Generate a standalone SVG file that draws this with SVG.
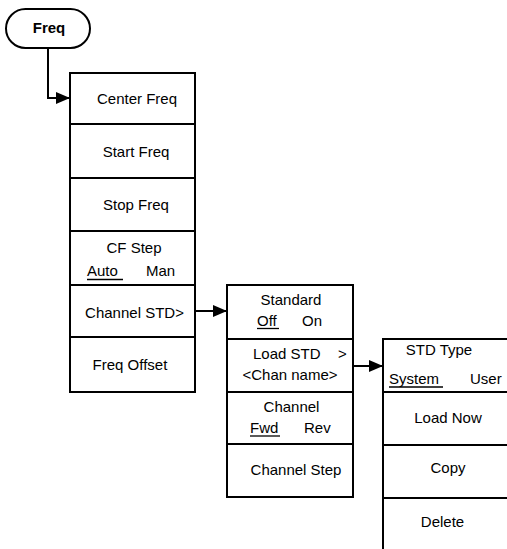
<svg xmlns="http://www.w3.org/2000/svg" width="507" height="549" viewBox="0 0 507 549">
<style>
.box{fill:#fff;stroke:#000;stroke-width:2}
.ln{fill:none;stroke:#000;stroke-width:2}
.t{font-family:"Liberation Sans",Arial,sans-serif;font-size:15px;fill:#000}
.m{text-anchor:middle}
.b{font-weight:bold}
.u{stroke:#000;stroke-width:1.3}
</style>
<defs>
<marker id="ah" markerWidth="14" markerHeight="12" refX="14" refY="6" orient="auto" markerUnits="userSpaceOnUse">
<path d="M0,0 L14,6 L0,12 Z" fill="#000"/>
</marker>
</defs>
<g id="connectors">
<path class="ln" d="M48,48 V98 H70" marker-end="url(#ah)"/>
<path class="ln" d="M195,311 H227" marker-end="url(#ah)"/>
<path class="ln" d="M353,366 H383" marker-end="url(#ah)"/>
</g>
<g id="freq">
<rect class="box" x="6" y="9" width="84" height="39" rx="19.5"/>
<text class="t m b" x="49" y="33">Freq</text>
</g>
<g id="menu1">
<rect class="box" x="70" y="73" width="125" height="319"/>
<path class="ln" d="M70,124 H195 M70,178 H195 M70,231 H195 M70,285 H195 M70,337 H195"/>
<g id="center-freq"><text class="t m" x="137" y="104">Center Freq</text></g>
<g id="start-freq"><text class="t m" x="136" y="157">Start Freq</text></g>
<g id="stop-freq"><text class="t m" x="136" y="210">Stop Freq</text></g>
<g id="cf-step">
<text class="t m" x="134" y="253">CF Step</text>
<text class="t" x="87" y="276">Auto</text>
<text class="t" x="146" y="276">Man</text>
<line class="u" x1="87" y1="279.5" x2="123" y2="279.5"/>
</g>
<g id="channel-std"><text class="t m" x="134.5" y="318">Channel STD&gt;</text></g>
<g id="freq-offset"><text class="t m" x="130" y="370">Freq Offset</text></g>
</g>
<g id="menu2">
<rect class="box" x="227" y="285" width="126" height="212"/>
<path class="ln" d="M227,339 H353 M227,392 H353 M227,444 H353"/>
<g id="standard">
<text class="t m" x="291" y="305">Standard</text>
<text class="t" x="257" y="326">Off</text>
<text class="t" x="302" y="326">On</text>
<line class="u" x1="257" y1="328.5" x2="279" y2="328.5"/>
</g>
<g id="load-std">
<text class="t" x="253" y="359">Load STD</text>
<text class="t" x="338" y="359">&gt;</text>
<text class="t m" x="290" y="380">&lt;Chan name&gt;</text>
</g>
<g id="channel">
<text class="t m" x="291.5" y="412">Channel</text>
<text class="t" x="250" y="433">Fwd</text>
<text class="t" x="304" y="433">Rev</text>
<line class="u" x1="250" y1="436" x2="280" y2="436"/>
</g>
<g id="channel-step"><text class="t m" x="296" y="475">Channel Step</text></g>
</g>
<g id="menu3">
<path class="ln" d="M507,339 H383 V549 M383,392 H507 M383,445 H507 M383,498 H507"/>
<g id="std-type">
<text class="t m" x="439" y="355">STD Type</text>
<text class="t" x="389" y="384">System</text>
<text class="t" x="470" y="384">User</text>
<line class="u" x1="389" y1="387" x2="443" y2="387"/>
</g>
<g id="load-now"><text class="t m" x="448" y="423">Load Now</text></g>
<g id="copy"><text class="t m" x="448" y="473">Copy</text></g>
<g id="delete"><text class="t m" x="442.5" y="527">Delete</text></g>
</g>
</svg>
